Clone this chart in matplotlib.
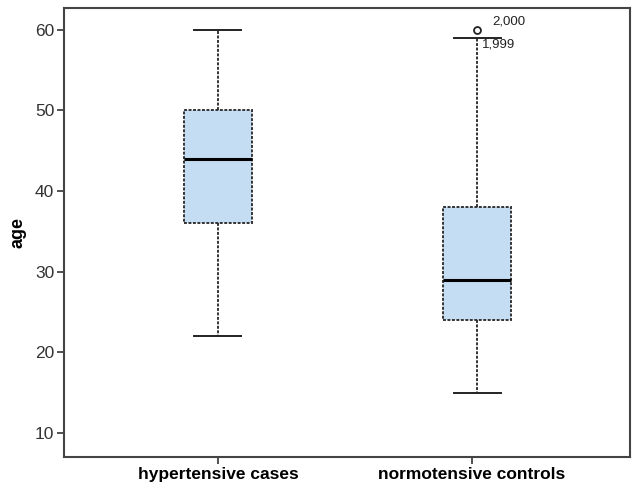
import matplotlib.pyplot as plt

groups = ["hypertensive cases", "normotensive controls"]
whislo = [22, 15]
q1 = [36, 24]
med = [44, 29]
q3 = [50, 38]
whishi = [60, 59]
outliers = [[], [60]]
outlier_labels = [[], ["2,000"]]
extra_labels = [None, ("1,999", 59)]

stats = []
for i, name in enumerate(groups):
    stats.append(dict(label=name, whislo=whislo[i], q1=q1[i], med=med[i],
                      q3=q3[i], whishi=whishi[i], fliers=outliers[i]))

fig = plt.figure(figsize=(6.33, 4.91), dpi=100)
ax = fig.add_axes([64 / 633, 34 / 491, 566 / 633, 449 / 491])

ax.bxp(stats, positions=[1, 2.02], widths=0.27, patch_artist=True,
       boxprops=dict(facecolor="#c4ddf3", edgecolor="#333333", linestyle=(0, (1.5, 0.8)), linewidth=1.4),
       whiskerprops=dict(color="#333333", linestyle=(0, (1.5, 0.8)), linewidth=1.4),
       capprops=dict(color="#222222", linewidth=1.4),
       medianprops=dict(color="black", linewidth=2.2),
       flierprops=dict(marker="o", markersize=5, markerfacecolor="white",
                       markeredgecolor="#222222", markeredgewidth=1.3),
       capwidths=0.185)

for i in range(len(groups)):
    for val, lab in zip(outliers[i], outlier_labels[i]):
        ax.text(i + 1 + 0.08, val + 0.3, lab, fontsize=9.5, family="Liberation Sans",
                color="#222222", ha="left", va="bottom")
    if extra_labels[i] is not None:
        lab, val = extra_labels[i]
        ax.text(i + 1 + 0.04, val - 0.8, lab, fontsize=9.5, family="Liberation Sans",
                color="#222222", ha="left", va="center")

ax.set_xlim(0.394, 2.622)
ax.set_ylim(7.0, 62.7)
ax.set_yticks([10, 20, 30, 40, 50, 60])
ax.set_xticks([1, 2])
ax.set_xticklabels(groups, fontsize=12.5, fontweight="bold", family="Liberation Sans")
for t in ax.get_yticklabels():
    t.set_fontsize(12.5)
    t.set_family("Liberation Sans")
    t.set_color("#333333")
ax.set_ylabel("age", fontsize=13, fontweight="bold", family="Liberation Sans", labelpad=6)
ax.tick_params(axis="both", length=5, width=1.2, color="#333333", pad=2)
for s in ax.spines.values():
    s.set_linewidth(1.5)
    s.set_color("#444444")

fig.savefig("out.png", dpi=100)
